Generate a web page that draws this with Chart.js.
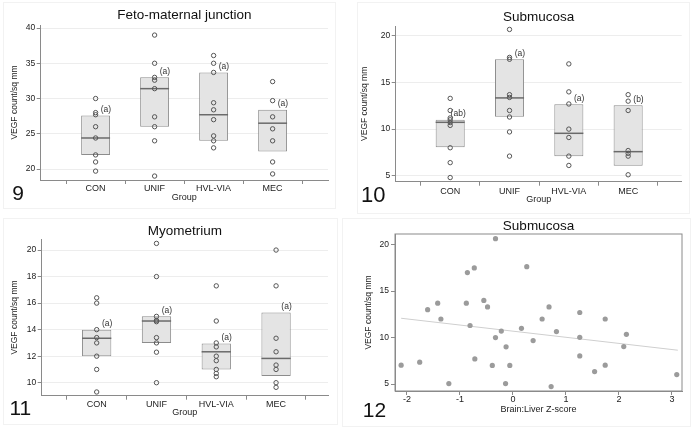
<!DOCTYPE html>
<html>
<head>
<meta charset="utf-8">
<script src="https://cdn.jsdelivr.net/npm/chart.js@4.4.1/dist/chart.umd.min.js"></script>
<style>
  body { margin: 0; background: #fff; }
  #page { position: relative; width: 693px; height: 428px; overflow: hidden; background: #fff; }
  canvas { position: absolute; }
  .frame { position: absolute; border: 1px solid #f2f2f2; }
</style>
</head>
<body>
<div id="page">
  <div class="frame" style="left:3px;top:2px;width:331px;height:205px"></div>
  <div class="frame" style="left:357px;top:2px;width:331px;height:210px"></div>
  <div class="frame" style="left:3px;top:218px;width:333px;height:205px"></div>
  <div class="frame" style="left:342px;top:218px;width:347px;height:207px"></div>
  <canvas id="fig9" width="340" height="210" style="left:0;top:0"></canvas>
  <canvas id="fig10" width="343" height="214" style="left:350px;top:0"></canvas>
  <canvas id="fig11" width="340" height="216" style="left:0;top:212px"></canvas>
  <canvas id="fig12" width="348" height="216" style="left:345px;top:212px"></canvas>
</div>
<script>
var groups = ['CON', 'UNIF', 'HVL-VIA', 'MEC'];

// Fig 9 - feto-maternal junction
var fmjPoints = [
    [30, 28, 27.7, 26, 24.4, 22, 21, 19.7],
    [39, 35, 33, 32.6, 31.4, 27.4, 26, 24, 19],
    [36.1, 35, 33.7, 29.4, 28.4, 27, 24.7, 24, 23],
    [32.4, 29.7, 27.4, 25.7, 24, 21, 19.3]
];
var fmjQ1 = [22, 26, 24, 22.5];
var fmjMedian = [24.4, 31.4, 27.7, 26.5];
var fmjQ3 = [27.6, 33, 33.7, 28.4];
var fmjLetters = ['(a)', '(a)', '(a)', '(a)'];
var fmjTicks = [20, 25, 30, 35, 40];

// Fig 10 - submucosa
var subPoints = [
    [13.3, 12, 11.2, 11, 10.7, 10.4, 8, 6.4, 4.8],
    [20.7, 17.7, 17.5, 13.7, 13.4, 12, 11.3, 9.7, 7.1],
    [17, 14, 12.7, 10, 9.1, 7.1, 6.1],
    [13.7, 13, 12, 7.7, 7.4, 7.1, 5.1]
];
var subQ1 = [8.05, 11.33, 7.08, 6.08];
var subMedian = [10.73, 13.35, 9.55, 7.58];
var subQ3 = [11, 17.5, 12.67, 12.56];
var subLetters = ['(ab)', '(a)', '(a)', '(b)'];
var subTicks = [5, 10, 15, 20];

// Fig 11 - myometrium
var myoPoints = [
    [16.4, 16, 14, 13.4, 13, 12, 11, 9.3],
    [20.5, 18, 15, 14.7, 14.6, 13.4, 13, 12.3, 10],
    [17.3, 14.65, 13, 12.7, 12, 11.66, 11, 10.7, 10.45],
    [20, 17.3, 13.35, 12.33, 11.33, 11, 10, 9.65]
];
var myoQ1 = [12, 13, 11, 10.5];
var myoMedian = [13.35, 14.65, 12.33, 11.83];
var myoQ3 = [14, 15, 12.96, 15.3];
var myoLetters = ['(a)', '(a)', '(a)', '(a)'];
var myoTicks = [10, 12, 14, 16, 18, 20];

// Fig 12 - submucosa VEGF vs brain:liver z-score
var zScore = [-2.11, -1.76, -1.61, -1.42, -1.36, -1.21, -0.88, -0.86, -0.81, -0.73, -0.72, -0.55,
    -0.48, -0.39, -0.33, -0.33, -0.22, -0.14, -0.13, -0.06, 0.16, 0.26, 0.38, 0.55, 0.68, 0.72,
    0.82, 1.26, 1.26, 1.26, 1.54, 1.74, 1.74, 2.09, 2.14, 3.09];
var zVegf = [7.03, 7.35, 13.0, 13.7, 12.0, 5.05, 13.7, 17.0, 11.3, 17.5, 7.7, 14.0,
    13.3, 7.0, 10.0, 20.65, 10.7, 5.05, 9.0, 7.0, 11.0, 17.63, 9.68, 12.0, 13.3, 4.73,
    10.65, 12.7, 10.03, 8.03, 6.34, 12.0, 7.03, 9.03, 10.35, 6.02];
var fitX = [-2.11, 3.11];
var fitY = [12.08, 8.64];
var zTicks = [-2, -1, 0, 1, 2, 3];
var zVegfTicks = [5, 10, 15, 20];

Chart.defaults.font.family = '"Liberation Sans", Arial, sans-serif';
Chart.defaults.color = '#222';

var axisGrey = '#8a8a8a';

// median line + letter annotation on each box
var boxExtras = {
    id: 'boxExtras',
    afterDatasetDraw: function (chart, args, opts) {
        if (args.index !== 0) return;
        var ctx = chart.ctx, yScale = chart.scales.y;
        var bars = args.meta.data;
        ctx.save();
        ctx.strokeStyle = '#6a6a6a';
        ctx.lineWidth = 1.5;
        bars.forEach(function (bar, i) {
            var py = yScale.getPixelForValue(opts.medians[i]);
            ctx.beginPath();
            ctx.moveTo(bar.x - bar.width / 2, py);
            ctx.lineTo(bar.x + bar.width / 2, py);
            ctx.stroke();
        });
        ctx.fillStyle = '#333';
        ctx.font = '8.5px "Liberation Sans", Arial, sans-serif';
        ctx.textAlign = 'right';
        ctx.textBaseline = 'middle';
        bars.forEach(function (bar, i) {
            ctx.fillText(opts.letters[i], bar.x + bar.width / 2 + 1, Math.min(bar.y, bar.base) - 6);
        });
        ctx.restore();
    }
};

// big figure number in the corner
var panelTag = {
    id: 'panelTag',
    afterDraw: function (chart, args, opts) {
        var ctx = chart.ctx;
        ctx.save();
        ctx.font = opts.size + 'px "Liberation Sans", Arial, sans-serif';
        ctx.fillStyle = '#111';
        ctx.textAlign = 'left';
        ctx.textBaseline = 'alphabetic';
        ctx.fillText(opts.text, opts.x, opts.y);
        ctx.restore();
    }
};

// full outline round the plot area (fig 12)
var plotFrame = {
    id: 'plotFrame',
    afterDraw: function (chart) {
        var a = chart.chartArea, ctx = chart.ctx;
        ctx.save();
        ctx.strokeStyle = axisGrey;
        ctx.lineWidth = 1;
        ctx.strokeRect(a.left, a.top, a.right - a.left, a.bottom - a.top);
        ctx.restore();
    }
};

function titleOpts(text, top, bottom) {
    return {
        display: true, text: text, fullSize: false, color: '#111',
        font: { size: 13.5, weight: 'normal', lineHeight: 1 },
        padding: { top: top, bottom: bottom }
    };
}

function boxChart(id, c) {
    var scatter = [];
    c.points.forEach(function (vals, i) {
        vals.forEach(function (v) { scatter.push({ x: i + 1, y: v }); });
    });
    return new Chart(document.getElementById(id), {
        type: 'bar',
        data: {
            datasets: [
                {
                    type: 'bar',
                    order: 2,
                    data: groups.map(function (g, i) { return { x: i + 1, y: [c.q1[i], c.q3[i]] }; }),
                    backgroundColor: '#e4e4e4',
                    borderColor: '#8c8c8c',
                    borderWidth: 1,
                    borderSkipped: false,
                    barPercentage: 0.49,
                    categoryPercentage: 1
                },
                {
                    type: 'scatter',
                    order: 1,
                    data: scatter,
                    pointStyle: 'circle',
                    radius: 2.2,
                    borderWidth: 1,
                    borderColor: '#555',
                    backgroundColor: 'rgba(0,0,0,0)'
                }
            ]
        },
        options: {
            responsive: false,
            animation: false,
            layout: { padding: { left: 0, top: 0, bottom: 0, right: c.padRight } },
            plugins: {
                legend: { display: false },
                tooltip: { enabled: false },
                title: titleOpts(c.title, c.titleTop, c.titleBottom),
                boxExtras: { medians: c.median, letters: c.letters },
                panelTag: c.tag
            },
            scales: {
                x: {
                    type: 'linear',
                    min: c.xMin, max: c.xMax,
                    afterBuildTicks: function (s) { s.ticks = groups.map(function (g, i) { return { value: i + 1 }; }); },
                    afterFit: function (s) { s.height = c.xHeight; },
                    ticks: {
                        callback: function (v) { return groups[v - 1]; },
                        font: { size: 9, lineHeight: 1 }, padding: c.xTickPad,
                        autoSkip: false, maxRotation: 0, color: '#222'
                    },
                    grid: { drawOnChartArea: false, tickLength: 4, tickColor: axisGrey },
                    border: { color: axisGrey },
                    title: {
                        display: true, text: 'Group', color: '#222',
                        font: { size: 9, lineHeight: 1 }, padding: { top: 0, bottom: c.xTitlePad }
                    }
                },
                y: {
                    min: c.yMin, max: c.yMax,
                    afterBuildTicks: function (s) { s.ticks = c.ticks.map(function (v) { return { value: v }; }); },
                    afterFit: function (s) { s.width = c.yWidth; },
                    ticks: { font: { size: 8.5 }, padding: 1.5, color: '#222' },
                    grid: { color: '#ededed', tickColor: axisGrey, tickLength: 4 },
                    border: { color: axisGrey },
                    title: {
                        display: true, text: 'VEGF count/sq mm', color: '#222',
                        font: { size: 8.5, lineHeight: 1 }, padding: { top: c.yTitlePad, bottom: 0 }
                    }
                }
            }
        },
        plugins: [boxExtras, panelTag]
    });
}

boxChart('fig9', {
    title: 'Feto-maternal junction', points: fmjPoints, q1: fmjQ1, q3: fmjQ3,
    median: fmjMedian, letters: fmjLetters, ticks: fmjTicks,
    xMin: 0.678, xMax: 4.33, yMin: 18.44, yMax: 40.43,
    yWidth: 40.7, xHeight: 30, padRight: 12,
    titleTop: 8.95, titleBottom: 2.55, yTitlePad: 10.75, xTitlePad: 8.2, xTickPad: 0,
    tag: { text: '9', x: 12.2, y: 200, size: 21 }
});

boxChart('fig10', {
    title: 'Submucosa', points: subPoints, q1: subQ1, q3: subQ3,
    median: subMedian, letters: subLetters, ticks: subTicks,
    xMin: 0.684, xMax: 4.30, yMin: 4.355, yMax: 21.07,
    yWidth: 45.7, xHeight: 32.3, padRight: 11.3,
    titleTop: 10.25, titleBottom: 2.25, yTitlePad: 10.75, xTitlePad: 9.5, xTickPad: 1,
    tag: { text: '10', x: 10.9, y: 202.3, size: 22 }
});

boxChart('fig11', {
    title: 'Myometrium', points: myoPoints, q1: myoQ1, q3: myoQ3,
    median: myoMedian, letters: myoLetters, ticks: myoTicks,
    xMin: 0.679, xMax: 4.27, yMin: 9.02, yMax: 20.81,
    yWidth: 41.7, xHeight: 32.3, padRight: 12,
    titleTop: 12.95, titleBottom: 0.85, yTitlePad: 10.75, xTitlePad: 10.8, xTickPad: 0,
    tag: { text: '11', x: 9.4, y: 203, size: 21 }
});

// Fig 12 scatter with fitted line
new Chart(document.getElementById('fig12'), {
    type: 'scatter',
    data: {
        datasets: [
            {
                data: zScore.map(function (z, i) { return { x: z, y: zVegf[i] }; }),
                pointStyle: 'circle',
                radius: 2.6,
                borderWidth: 0,
                backgroundColor: '#9b9b9b'
            },
            {
                type: 'line',
                data: fitX.map(function (x, i) { return { x: x, y: fitY[i] }; }),
                borderColor: '#cfcfcf',
                borderWidth: 1,
                pointRadius: 0
            }
        ]
    },
    options: {
        responsive: false,
        animation: false,
        layout: { padding: { left: 0, top: 0, bottom: 0, right: 11 } },
        plugins: {
            legend: { display: false },
            tooltip: { enabled: false },
            title: titleOpts('Submucosa', 7.95, 0.55),
            panelTag: { text: '12', x: 17.7, y: 204.7, size: 21 }
        },
        scales: {
            x: {
                type: 'linear',
                min: -2.226, max: 3.189,
                afterBuildTicks: function (s) { s.ticks = zTicks.map(function (v) { return { value: v }; }); },
                afterFit: function (s) { s.height = 37; },
                ticks: { font: { size: 9, lineHeight: 1 }, padding: 0, color: '#222' },
                grid: { drawOnChartArea: false, tickLength: 4, tickColor: axisGrey },
                border: { color: axisGrey },
                title: {
                    display: true, text: 'Brain:Liver Z-score', color: '#222',
                    font: { size: 9, lineHeight: 1 }, padding: { top: 0, bottom: 14.2 }
                }
            },
            y: {
                min: 4.25, max: 21.15,
                afterBuildTicks: function (s) { s.ticks = zVegfTicks.map(function (v) { return { value: v }; }); },
                afterFit: function (s) { s.width = 50; },
                ticks: { font: { size: 8.5 }, padding: 2, color: '#222' },
                grid: { drawOnChartArea: false, tickColor: axisGrey, tickLength: 4 },
                border: { color: axisGrey },
                title: {
                    display: true, text: 'VEGF count/sq mm', color: '#222',
                    font: { size: 8.5, lineHeight: 1 }, padding: { top: 19.05, bottom: 0 }
                }
            }
        }
    },
    plugins: [panelTag, plotFrame]
});
</script>
</body>
</html>
